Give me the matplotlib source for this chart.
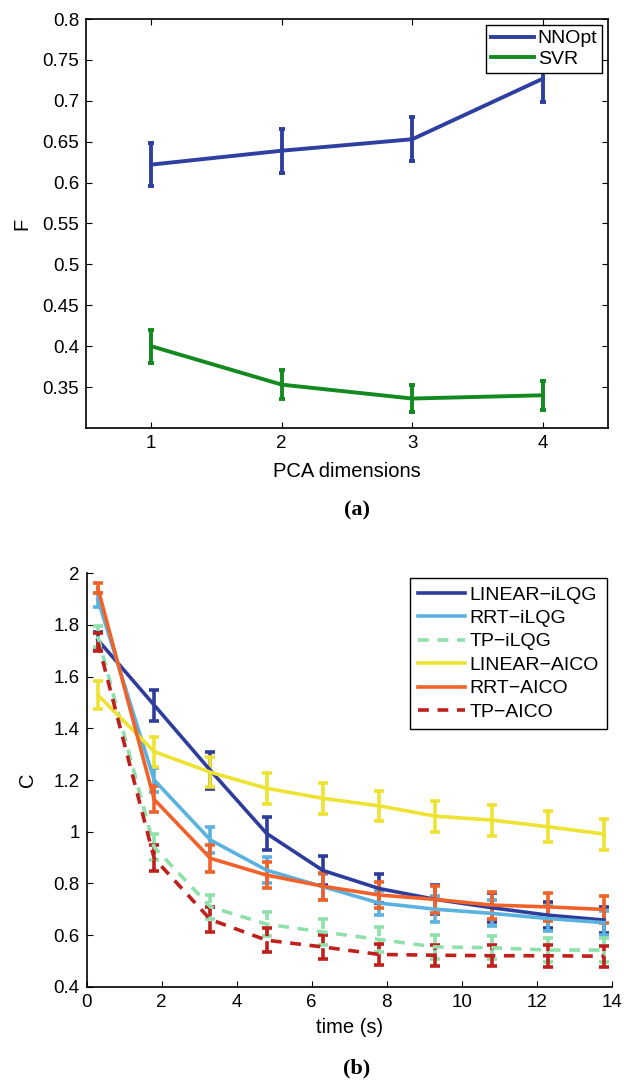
import matplotlib
matplotlib.use("Agg")
import matplotlib.pyplot as plt

plt.rcParams['font.family'] = ['Liberation Sans', 'DejaVu Sans']

# (a) F vs PCA dimensions
pca_dims = [1, 2, 3, 4]
nnopt_mean = [0.622, 0.639, 0.653, 0.727]
nnopt_err = [0.026, 0.027, 0.027, 0.028]
svr_mean = [0.400, 0.353, 0.336, 0.340]
svr_err = [0.020, 0.018, 0.017, 0.018]

# (b) C vs time
times = [0.3, 1.8, 3.3, 4.8, 6.3, 7.8, 9.3, 10.8, 12.3, 13.8]
lin_ilqg = [1.742, 1.490, 1.237, 0.993, 0.850, 0.780, 0.738, 0.706, 0.677, 0.658]
lin_ilqg_err = [0.03, 0.06, 0.07, 0.063, 0.055, 0.055, 0.055, 0.055, 0.05, 0.05]
rrt_ilqg = [1.897, 1.200, 0.968, 0.851, 0.787, 0.724, 0.700, 0.684, 0.664, 0.648]
rrt_ilqg_err = [0.026, 0.045, 0.05, 0.05, 0.05, 0.047, 0.05, 0.05, 0.047, 0.047]
tp_ilqg = [1.755, 0.940, 0.709, 0.642, 0.612, 0.583, 0.554, 0.551, 0.542, 0.542]
tp_ilqg_err = [0.04, 0.05, 0.046, 0.047, 0.05, 0.047, 0.048, 0.045, 0.048, 0.045]
lin_aico = [1.529, 1.310, 1.230, 1.168, 1.129, 1.100, 1.060, 1.045, 1.019, 0.991]
lin_aico_err = [0.055, 0.058, 0.058, 0.059, 0.06, 0.058, 0.06, 0.06, 0.06, 0.06]
rrt_aico = [1.942, 1.125, 0.897, 0.832, 0.789, 0.755, 0.738, 0.716, 0.709, 0.699]
rrt_aico_err = [0.02, 0.05, 0.053, 0.05, 0.053, 0.052, 0.052, 0.052, 0.053, 0.052]
tp_aico = [1.733, 0.897, 0.660, 0.580, 0.554, 0.525, 0.522, 0.520, 0.520, 0.518]
tp_aico_err = [0.035, 0.05, 0.05, 0.047, 0.047, 0.042, 0.04, 0.04, 0.042, 0.04]

fig = plt.figure(figsize=(6.24, 10.86), dpi=100)

# ---- panel (a)
ax1 = fig.add_axes([0.1378, 0.6059, 0.8365, 0.3766])
h1 = ax1.errorbar(pca_dims, nnopt_mean, yerr=nnopt_err, color='#2f3f9f', lw=2.8,
                  elinewidth=2.8, capsize=2.5, capthick=2.8, label='NNOpt')
h2 = ax1.errorbar(pca_dims, svr_mean, yerr=svr_err, color='#138a1f', lw=2.8,
                  elinewidth=2.8, capsize=2.5, capthick=2.8, label='SVR')
ax1.set_xlim(0.5, 4.5)
ax1.set_ylim(0.3, 0.8)
ax1.set_xticks(pca_dims)
ax1.set_yticks([0.35, 0.4, 0.45, 0.5, 0.55, 0.6, 0.65, 0.7, 0.75, 0.8])
ax1.set_yticklabels(['0.35', '0.4', '0.45', '0.5', '0.55', '0.6', '0.65', '0.7', '0.75', '0.8'])
ax1.tick_params(direction='in', top=True, right=True, labelsize=13.5, length=4, pad=5)
ax1.set_xlabel('PCA dimensions', fontsize=14.5, labelpad=7)
ax1.set_ylabel('F', fontsize=14.5, labelpad=8)
for s in ax1.spines.values():
    s.set_linewidth(1.2)
leg1 = ax1.legend(handles=[h1[0], h2[0]], labels=['NNOpt', 'SVR'], loc='upper right',
                  fontsize=14, fancybox=False, framealpha=1, edgecolor='black',
                  borderaxespad=0.3, handlelength=2.2, handletextpad=0.2,
                  borderpad=0.25, labelspacing=0.15)
leg1.get_frame().set_linewidth(1.0)

fig.text(0.572, 1 - 510 / 1086, '(a)', family='Liberation Serif', weight='bold',
         fontsize=16, ha='center', va='center')

# ---- panel (b)
ax2 = fig.add_axes([0.1389, 0.0914, 0.8413, 0.3807])
series = [
    (lin_ilqg, lin_ilqg_err, '#2e3d9c', '-', 'LINEAR\u2212iLQG'),
    (rrt_ilqg, rrt_ilqg_err, '#5ab2df', '-', 'RRT\u2212iLQG'),
    (tp_ilqg, tp_ilqg_err, '#8fe0aa', '--', 'TP\u2212iLQG'),
    (lin_aico, lin_aico_err, '#eee232', '-', 'LINEAR\u2212AICO'),
    (rrt_aico, rrt_aico_err, '#f0622a', '-', 'RRT\u2212AICO'),
    (tp_aico, tp_aico_err, '#c0201c', '--', 'TP\u2212AICO'),
]
handles = []
labels = []
for vals, errs, col, ls, lab in series:
    eb = ax2.errorbar(times, vals, yerr=errs, color=col, lw=2.6, ls=ls,
                      elinewidth=2.6, capsize=3.6, capthick=2.6)
    if ls == '--':
        eb[0].set_dashes((3.0, 2.4))
        eb[2][0].set_linestyle((0, (3.0, 1.4)))
    handles.append(eb[0])
    labels.append(lab)

ax2.set_xlim(0, 14)
ax2.set_ylim(0.4, 2)
ax2.set_xticks([0, 2, 4, 6, 8, 10, 12, 14])
ax2.set_yticks([0.4, 0.6, 0.8, 1, 1.2, 1.4, 1.6, 1.8, 2])
ax2.set_yticklabels(['0.4', '0.6', '0.8', '1', '1.2', '1.4', '1.6', '1.8', '2'])
ax2.spines['top'].set_visible(False)
ax2.spines['right'].set_visible(False)
for s in ax2.spines.values():
    s.set_linewidth(1.2)
ax2.tick_params(direction='in', labelsize=13.5, length=4, pad=5)
ax2.set_xlabel('time (s)', fontsize=14.5, labelpad=5)
ax2.set_ylabel('C', fontsize=14.5, labelpad=12)
leg2 = ax2.legend(handles=handles, labels=labels, loc='upper right', fontsize=14,
                  fancybox=False, framealpha=1, edgecolor='black',
                  borderaxespad=0.25, handlelength=2.4, handletextpad=0.25,
                  borderpad=0.4, labelspacing=0.3)
leg2.get_frame().set_linewidth(1.0)

fig.text(0.572, 1 - 1068 / 1086, '(b)', family='Liberation Serif', weight='bold',
         fontsize=16, ha='center', va='center')

fig.savefig('out.png', dpi=100)
